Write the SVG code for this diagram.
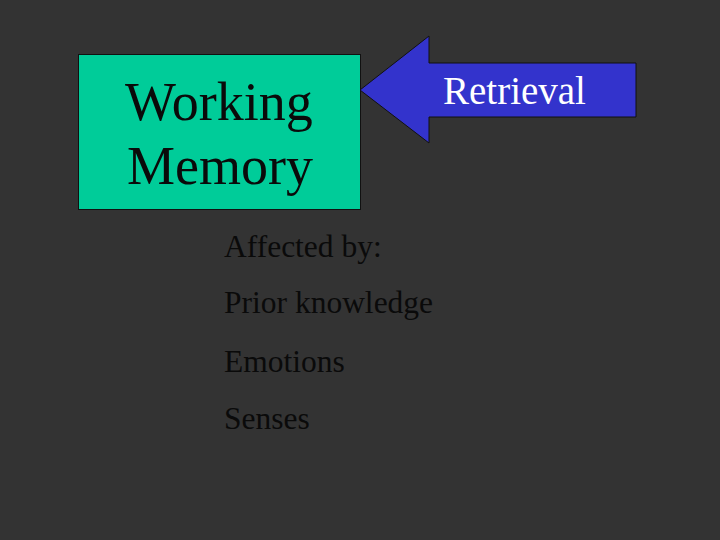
<svg xmlns="http://www.w3.org/2000/svg" width="720" height="540" viewBox="0 0 720 540">
<style>
.t{font-family:"Liberation Serif","Times New Roman",serif;}
.dark{fill:#0a0a0a;}
.body{font-size:31.5px;}
</style>
<rect width="720" height="540" fill="#333333"/>
<g id="working-memory">
<rect x="78.5" y="54.5" width="282" height="155" fill="#00cc99" stroke="#111" stroke-width="1"/>
<text class="t dark" x="125" y="120" font-size="54">Working</text>
<text class="t dark" x="127" y="184" font-size="54">Memory</text>
</g>
<g id="retrieval">
<polygon points="360,90 429,36 429,63 636,63 636,117 429,117 429,143" fill="#3333cc" stroke="#111" stroke-width="1"/>
<text class="t" x="443" y="104" font-size="39" fill="#ffffff">Retrieval</text>
</g>
<g id="affected">
<text class="t dark body" x="224" y="257">Affected by:</text>
<text class="t dark body" x="224" y="313">Prior knowledge</text>
<text class="t dark body" x="224" y="372">Emotions</text>
<text class="t dark body" x="224" y="429">Senses</text>
</g>
<g id="connectors"></g>
</svg>
